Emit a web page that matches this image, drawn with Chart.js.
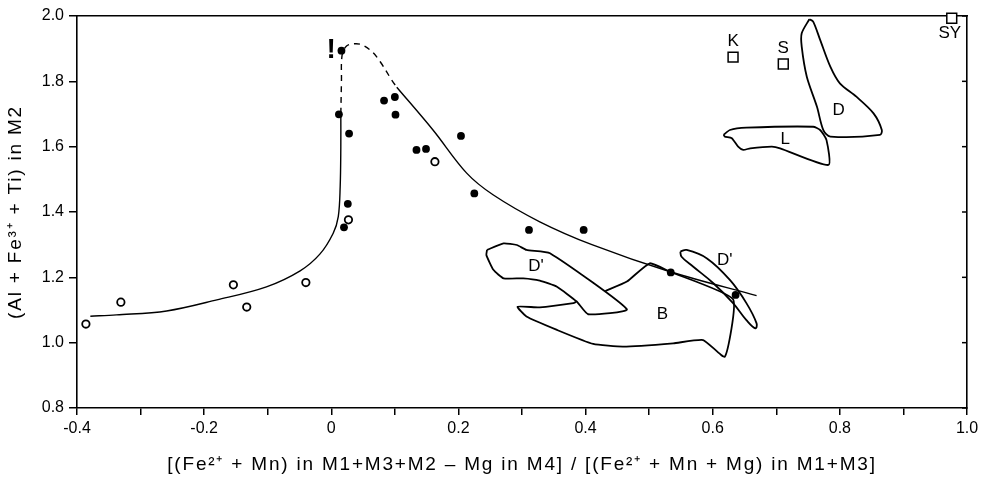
<!DOCTYPE html>
<html>
<head>
<meta charset="utf-8">
<script src="https://cdn.jsdelivr.net/npm/chart.js@4"></script>
<style>
  body { margin: 0; background: #fff; }
  #wrap { width: 984px; height: 477px; }
</style>
</head>
<body>
<div id="wrap"><canvas id="chart"></canvas></div>
<script>
// ticks
const xTicks = [-0.4, -0.3, -0.2, -0.1, 0, 0.1, 0.2, 0.3, 0.4, 0.5, 0.6, 0.7, 0.8, 0.9, 1.0];
const xTickLabels = ['-0.4', '', '-0.2', '', '0', '', '0.2', '', '0.4', '', '0.6', '', '0.8', '', '1.0'];
const yTicks = [0.8, 1.0, 1.2, 1.4, 1.6, 1.8, 2.0];
const yTickLabels = ['0.8', '1.0', '1.2', '1.4', '1.6', '1.8', '2.0'];

// filled dots
const filledX = [0.016, 0.012, 0.028, 0.083, 0.100, 0.101, 0.134, 0.149, 0.204, 0.225, 0.026, 0.020, 0.311, 0.397, 0.534, 0.636];
const filledY = [1.894, 1.699, 1.640, 1.741, 1.752, 1.698, 1.590, 1.593, 1.633, 1.457, 1.425, 1.353, 1.345, 1.345, 1.215, 1.146];

// open circles
const openX = [-0.386, -0.331, -0.154, -0.133, -0.040, 0.163, 0.027];
const openY = [1.057, 1.124, 1.177, 1.109, 1.184, 1.554, 1.376];

// reference squares
const refNames = ['K', 'S', 'SY'];
const refX = [0.632, 0.711, 0.976];
const refY = [1.874, 1.853, 1.993];

// trend curve
const curveLow = [[-0.379, 1.081], [-0.338, 1.085], [-0.259, 1.097], [-0.18, 1.131], [-0.102, 1.171], [-0.049, 1.22],
  [-0.018, 1.271], [0.003, 1.335], [0.011, 1.386], [0.014, 1.478], [0.015, 1.60], [0.015, 1.70]];
const curveDash = [[0.015, 1.70], [0.016, 1.80], [0.017, 1.88], [0.024, 1.908], [0.036, 1.915], [0.048, 1.912],
  [0.064, 1.891], [0.077, 1.860], [0.095, 1.804], [0.103, 1.782]];
const curveHigh = [[0.103, 1.782], [0.160, 1.651], [0.213, 1.519], [0.255, 1.452], [0.328, 1.37], [0.41, 1.30],
  [0.533, 1.217], [0.669, 1.144]];

// fields
const fieldDLeft = [[0.245, 1.284], [0.271, 1.304], [0.292, 1.299], [0.307, 1.284], [0.344, 1.274], [0.465, 1.102],
  [0.404, 1.087], [0.386, 1.126], [0.355, 1.171], [0.328, 1.190], [0.302, 1.197], [0.271, 1.197], [0.255, 1.223],
  [0.244, 1.268], [0.245, 1.284]];
const fieldB = [[0.385, 1.125], [0.381, 1.121], [0.328, 1.108], [0.293, 1.110], [0.307, 1.080], [0.355, 1.039],
  [0.412, 0.996], [0.459, 0.988], [0.538, 0.998], [0.585, 1.008], [0.619, 0.957], [0.632, 1.133], [0.533, 1.217],
  [0.501, 1.243], [0.465, 1.187], [0.431, 1.158]];
const fieldDRight = [[0.549, 1.279], [0.559, 1.284], [0.591, 1.258], [0.627, 1.192], [0.653, 1.121], [0.669, 1.059],
  [0.667, 1.044], [0.653, 1.069], [0.632, 1.121], [0.601, 1.182], [0.569, 1.233], [0.551, 1.263], [0.549, 1.279]];
const fieldD = [[0.752, 1.990], [0.740, 1.947], [0.740, 1.906], [0.748, 1.814], [0.764, 1.722], [0.774, 1.651],
  [0.785, 1.631], [0.863, 1.636], [0.866, 1.651], [0.853, 1.702], [0.826, 1.753], [0.800, 1.794], [0.785, 1.845],
  [0.769, 1.927], [0.758, 1.983], [0.752, 1.990]];
const fieldL = [[0.617, 1.636], [0.627, 1.651], [0.653, 1.658], [0.758, 1.661], [0.769, 1.651], [0.779, 1.620],
  [0.782, 1.544], [0.706, 1.595], [0.693, 1.600], [0.659, 1.595], [0.648, 1.590], [0.640, 1.600], [0.630, 1.626],
  [0.619, 1.631], [0.617, 1.636]];

// text labels placed in data units
const noteText = ["D'", 'B', "D'", 'D', 'L', 'K', 'S', 'SY'];
const noteX = [0.322, 0.521, 0.619, 0.798, 0.714, 0.632, 0.711, 0.973];
const noteY = [1.233, 1.087, 1.251, 1.712, 1.621, 1.921, 1.901, 1.947];

const FONT = '"Liberation Sans", Arial, sans-serif';
const pts = arr => arr.map(p => ({x: p[0], y: p[1]}));

function lineSet(arr, extra) {
  return Object.assign({
    type: 'line', data: pts(arr), borderColor: '#000', borderWidth: 1.4,
    pointRadius: 0, tension: 0.35, fill: false, showLine: true
  }, extra || {});
}

// axis titles in the scan are set wider than the installed fonts
function spaceTitle(s) {
  if (s._spaced) return;
  const orig = s.drawTitle;
  s.drawTitle = function () {
    const c = this.ctx;
    c.save();
    c.letterSpacing = '1.8px';
    orig.call(this);
    c.restore();
  };
  s._spaced = true;
}

const notesPlugin = {
  id: 'notes',
  afterDatasetsDraw(chart) {
    const {ctx, scales: {x, y}, chartArea} = chart;
    ctx.save();
    ctx.fillStyle = '#000';
    ctx.textAlign = 'center';
    ctx.textBaseline = 'middle';
    ctx.font = '17px ' + FONT;
    noteText.forEach((t, i) => {
      ctx.fillText(t, x.getPixelForValue(noteX[i]), y.getPixelForValue(noteY[i]));
    });
    ctx.font = 'bold 28px ' + FONT;
    ctx.fillText('!', x.getPixelForValue(0), y.getPixelForValue(1.896));
    // inward ticks on the right frame
    ctx.strokeStyle = '#000';
    ctx.lineWidth = 1.5;
    yTicks.forEach(v => {
      const py = y.getPixelForValue(v);
      ctx.beginPath();
      ctx.moveTo(chartArea.right, py);
      ctx.lineTo(chartArea.right - 5, py);
      ctx.stroke();
    });
    ctx.restore();
  }
};

new Chart(document.getElementById('chart'), {
  type: 'scatter',
  data: {
    datasets: [
      {
        label: 'filled', data: filledX.map((v, i) => ({x: v, y: filledY[i]})),
        pointRadius: 3.9, backgroundColor: '#000', borderColor: '#000', borderWidth: 0
      },
      {
        label: 'open', data: openX.map((v, i) => ({x: v, y: openY[i]})),
        pointRadius: 3.7, backgroundColor: '#fff', borderColor: '#000', borderWidth: 1.8
      },
      {
        label: 'refs', data: refX.map((v, i) => ({x: v, y: refY[i], name: refNames[i]})),
        pointStyle: 'rect', pointRadius: 7, backgroundColor: '#fff', borderColor: '#000', borderWidth: 1.5, clip: false
      },
      lineSet(curveLow),
      lineSet(curveDash, {borderDash: [6, 5]}),
      lineSet(curveHigh),
      lineSet(fieldDLeft, {borderWidth: 1.8, tension: 0.15}),
      lineSet(fieldB, {borderWidth: 1.8, tension: 0.15}),
      lineSet(fieldDRight, {borderWidth: 1.8, tension: 0.4}),
      lineSet(fieldD, {borderWidth: 1.8, tension: 0.3}),
      lineSet(fieldL, {borderWidth: 1.8, tension: 0.2})
    ]
  },
  options: {
    responsive: true,
    maintainAspectRatio: false,
    animation: false,
    layout: {padding: {left: 0, right: 17, top: 16, bottom: 0}},
    plugins: {legend: {display: false}, tooltip: {enabled: false}},
    scales: {
      x: {
        type: 'linear', position: 'bottom', min: -0.4, max: 1.0,
        afterBuildTicks: s => { s.ticks = xTicks.map(v => ({value: v})); },
        afterFit: s => { s.height = 69; spaceTitle(s); },
        ticks: {
          color: '#000', font: {family: FONT, size: 16}, padding: 4, maxRotation: 0, autoSkip: false,
          callback: (v, i) => xTickLabels[i]
        },
        grid: {drawOnChartArea: false, drawTicks: true, tickLength: 7, color: '#000', lineWidth: 1.5},
        border: {display: true, color: '#000', width: 1.6},
        title: {
          display: true, color: '#000', font: {family: FONT, size: 19},
          padding: {top: 0, bottom: 1},
          text: '[(Fe²⁺ + Mn) in M1+M3+M2 – Mg in M4] / [(Fe²⁺ + Mn + Mg) in M1+M3]'
        }
      },
      y: {
        type: 'linear', position: 'left', min: 0.8, max: 2.0,
        afterBuildTicks: s => { s.ticks = yTicks.map(v => ({value: v})); },
        afterFit: s => { s.width = 77; spaceTitle(s); },
        ticks: {
          color: '#000', font: {family: FONT, size: 16}, padding: 5,
          callback: (v, i) => yTickLabels[i]
        },
        grid: {drawOnChartArea: false, drawTicks: true, tickLength: 8, color: '#000', lineWidth: 1.5},
        border: {display: true, color: '#000', width: 1.6},
        title: {
          display: true, color: '#000', font: {family: FONT, size: 19},
          padding: {top: 4, bottom: 0},
          text: '(Al + Fe³⁺ + Ti) in M2'
        }
      },
      xTop: {
        type: 'linear', position: 'top', min: -0.4, max: 1.0,
        afterFit: s => { s.height = 0; },
        ticks: {display: false},
        grid: {display: false, drawTicks: false},
        border: {display: true, color: '#000', width: 1.6}
      },
      yRight: {
        type: 'linear', position: 'right', min: 0.8, max: 2.0,
        afterFit: s => { s.width = 0; },
        ticks: {display: false},
        grid: {display: false, drawTicks: false},
        border: {display: true, color: '#000', width: 1.6}
      }
    }
  },
  plugins: [notesPlugin]
});
</script>
</body>
</html>
